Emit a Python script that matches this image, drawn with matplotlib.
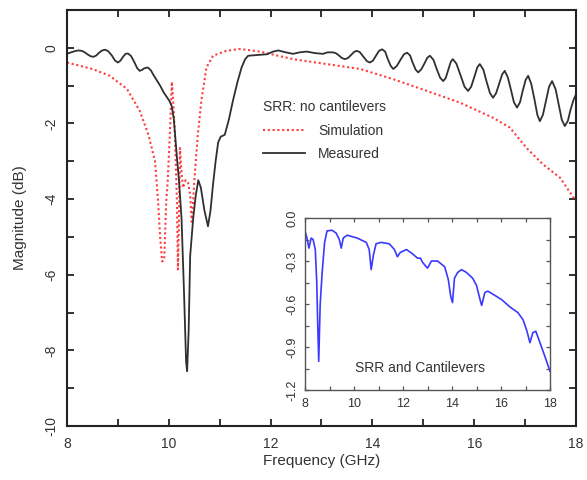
import matplotlib
matplotlib.use("Agg")
import matplotlib.pyplot as plt
from matplotlib.ticker import MultipleLocator
from matplotlib.lines import Line2D

plt.rcParams['font.family'] = ['Liberation Sans', 'DejaVu Sans']
plt.rcParams['axes.unicode_minus'] = False

# measured curve, SRR without cantilevers (black)
freq_meas = [8.0, 8.08, 8.15, 8.22, 8.29, 8.35, 8.4, 8.46, 8.52, 8.58,
             8.63, 8.69, 8.75, 8.81, 8.88, 8.94, 9.0, 9.05, 9.1, 9.15,
             9.2, 9.26, 9.32, 9.38, 9.43, 9.48, 9.52, 9.59, 9.65, 9.7,
             9.76, 9.83, 9.9, 9.96, 10.01, 10.06, 10.1, 10.13, 10.16, 10.2,
             10.25, 10.3, 10.34, 10.36, 10.39, 10.42, 10.48, 10.53, 10.58, 10.63,
             10.7, 10.77, 10.82, 10.87, 10.92, 10.97, 11.02, 11.1, 11.18, 11.26,
             11.35, 11.43, 11.5, 11.56, 11.75, 11.93, 12.05, 12.15, 12.3, 12.44,
             12.57, 12.71, 12.87, 13.03, 13.12, 13.22, 13.28, 13.34, 13.4, 13.46,
             13.52, 13.58, 13.64, 13.69, 13.75, 13.82, 13.89, 13.95, 14.01, 14.07,
             14.13, 14.19, 14.25, 14.3, 14.36, 14.41, 14.48, 14.55, 14.62, 14.68,
             14.74, 14.79, 14.85, 14.9, 14.96, 15.02, 15.08, 15.13, 15.2, 15.26,
             15.33, 15.39, 15.44, 15.49, 15.54, 15.58, 15.65, 15.73, 15.81, 15.88,
             15.94, 16.0, 16.06, 16.11, 16.18, 16.24, 16.31, 16.37, 16.43, 16.49,
             16.55, 16.6, 16.66, 16.72, 16.78, 16.84, 16.9, 16.95, 17.01, 17.06,
             17.12, 17.18, 17.24, 17.29, 17.35, 17.41, 17.47, 17.53, 17.6, 17.66,
             17.72, 17.78, 17.84, 17.89, 17.95, 18.0]
mag_meas = [-0.16, -0.12, -0.09, -0.07, -0.08, -0.12, -0.17, -0.22, -0.24, -0.2,
            -0.13, -0.07, -0.05, -0.09, -0.2, -0.33, -0.39, -0.34, -0.24, -0.16,
            -0.15, -0.22, -0.37, -0.54, -0.61, -0.58, -0.54, -0.52, -0.6, -0.72,
            -0.85, -1.0, -1.18, -1.3, -1.4, -1.55, -1.9, -2.4, -2.9, -3.5,
            -4.5, -6.5, -8.3, -8.55, -7.5, -5.5, -4.5, -3.9, -3.5, -3.7,
            -4.3, -4.72, -4.3, -3.6, -3.0, -2.5, -2.35, -2.3, -1.9, -1.4,
            -0.9, -0.52, -0.3, -0.21, -0.19, -0.17, -0.1, -0.07, -0.12, -0.16,
            -0.12, -0.1, -0.14, -0.16, -0.12, -0.12, -0.14, -0.2, -0.27, -0.3,
            -0.27, -0.19, -0.11, -0.08, -0.11, -0.23, -0.35, -0.39, -0.34, -0.21,
            -0.08, -0.04, -0.1, -0.29, -0.48, -0.56, -0.48, -0.32, -0.17, -0.13,
            -0.2, -0.39, -0.58, -0.65, -0.57, -0.42, -0.26, -0.21, -0.32, -0.55,
            -0.79, -0.88, -0.8, -0.58, -0.37, -0.3, -0.42, -0.72, -1.03, -1.14,
            -1.03, -0.78, -0.52, -0.43, -0.58, -0.88, -1.2, -1.32, -1.2, -0.95,
            -0.7, -0.61, -0.78, -1.1, -1.44, -1.58, -1.44, -1.15, -0.85, -0.74,
            -0.95, -1.34, -1.77, -1.94, -1.77, -1.4, -1.03, -0.88, -1.1, -1.5,
            -1.9, -2.07, -1.93, -1.65, -1.38, -1.23]

# simulation (red dotted)
freq_sim = [8.0, 8.5, 8.84, 9.18, 9.43, 9.6, 9.73, 9.79, 9.83, 9.87,
            9.91, 9.95, 9.98, 10.02, 10.06, 10.09, 10.12, 10.16, 10.18, 10.2,
            10.22, 10.25, 10.28, 10.33, 10.38, 10.42, 10.45, 10.48, 10.51, 10.57,
            10.64, 10.74, 10.87, 11.13, 11.4, 11.79, 12.44, 13.1, 13.76, 14.41,
            15.07, 15.72, 16.37, 16.7, 17.03, 17.35, 17.69, 18.0]
mag_sim = [-0.39, -0.56, -0.74, -1.09, -1.67, -2.3, -3.0, -4.06, -5.0, -5.65,
           -5.6, -4.06, -3.5, -2.3, -0.9, -1.5, -2.3, -4.06, -5.86, -4.5,
           -2.65, -3.3, -3.7, -3.5, -3.57, -3.9, -4.6, -4.0, -3.35, -2.3,
           -1.4, -0.52, -0.21, -0.08, -0.03, -0.1, -0.3, -0.43, -0.56, -0.83,
           -1.14, -1.45, -1.85, -2.11, -2.65, -3.08, -3.44, -4.06]

# inset: SRR and cantilevers (blue)
freq_cant = [8.0, 8.08, 8.16, 8.25, 8.33, 8.42, 8.48, 8.52, 8.56, 8.62,
             8.7, 8.8, 8.9, 9.1, 9.27, 9.4, 9.48, 9.56, 9.72, 10.13,
             10.5, 10.62, 10.7, 10.79, 10.9, 11.1, 11.44, 11.65, 11.77, 11.89,
             12.14, 12.39, 12.59, 12.71, 12.8, 13.0, 13.16, 13.41, 13.7, 13.85,
             13.95, 14.02, 14.1, 14.23, 14.39, 14.59, 14.84, 15.0, 15.13, 15.21,
             15.34, 15.46, 15.75, 16.03, 16.36, 16.69, 16.9, 17.06, 17.18, 17.3,
             17.42, 17.59, 17.8, 18.0]
mag_cant = [-0.09, -0.14, -0.21, -0.14, -0.15, -0.22, -0.45, -0.75, -1.0, -0.6,
            -0.38, -0.17, -0.09, -0.085, -0.105, -0.15, -0.21, -0.14, -0.12, -0.14,
            -0.17, -0.22, -0.36, -0.26, -0.18, -0.17, -0.18, -0.22, -0.27, -0.24,
            -0.22, -0.25, -0.28, -0.28, -0.31, -0.35, -0.3, -0.3, -0.34, -0.43,
            -0.55, -0.59, -0.42, -0.38, -0.36, -0.38, -0.42, -0.47, -0.56, -0.61,
            -0.52, -0.51, -0.54, -0.57, -0.62, -0.66, -0.71, -0.79, -0.87, -0.8,
            -0.79, -0.87, -0.97, -1.07]

main_xticks = [8, 10, 12, 14, 16, 18]
main_yticks = [0, -2, -4, -6, -8, -10]
inset_xticks = [8, 10, 12, 14, 16, 18]
inset_yticks = [0.0, -0.3, -0.6, -0.9, -1.2]

txt = '#333333'

fig = plt.figure(figsize=(5.87, 4.8), dpi=100)
ax = fig.add_axes([0.1141, 0.1125, 0.8672, 0.8667])

ax.plot(freq_sim, mag_sim, color='#ff3b3b', ls=(0, (1, 1.3)), lw=1.5)
ax.plot(freq_meas, mag_meas, color='#303030', lw=1.3)

ax.set_xlim(8, 18)
ax.set_ylim(-10, 1)
ax.set_xticks(main_xticks)
ax.set_yticks(main_yticks)
ax.xaxis.set_minor_locator(MultipleLocator(1))
ax.yaxis.set_minor_locator(MultipleLocator(1))
ax.tick_params(which='both', direction='in', top=True, right=True, width=1.3,
               length=5, colors='#222222', labelcolor=txt, labelsize=10)
ax.tick_params(axis='x', pad=8)
ax.tick_params(axis='y', pad=6)
for lab in ax.get_yticklabels():
    lab.set_rotation(90)
    lab.set_va('center')
for s in ax.spines.values():
    s.set_linewidth(1.5)
    s.set_color('#222222')
ax.set_xlabel('Frequency (GHz)', fontsize=11, color=txt, labelpad=2)
ax.set_ylabel('Magnitude (dB)', fontsize=11, color=txt, labelpad=13)

handles = [Line2D([], [], color='#ff3b3b', ls=(0, (1, 1.3)), lw=1.5),
           Line2D([], [], color='#303030', lw=1.3)]
ax.legend(handles, ['Simulation', 'Measured'], title='SRR: no cantilevers',
          loc='upper left', bbox_to_anchor=(0.448, 0.792), bbox_transform=fig.transFigure,
          frameon=False, fontsize=10, title_fontsize=10, alignment='left',
          handlelength=3.0, handletextpad=0.95, labelspacing=0.7, borderpad=0,
          borderaxespad=0, labelcolor=txt)
ax.get_legend().get_title().set_color(txt)

# inset
ins = fig.add_axes([0.5196, 0.1875, 0.4174, 0.3583])
ins.plot(freq_cant, mag_cant, color='#3a3aff', lw=1.2)
ins.set_xlim(8, 18)
ins.set_ylim(-1.2, 0.0)
ins.set_xticks(inset_xticks)
ins.set_yticks(inset_yticks)
ins.set_yticklabels(['%.1f' % v for v in inset_yticks])
ins.xaxis.set_minor_locator(MultipleLocator(1))
ins.yaxis.set_minor_locator(MultipleLocator(0.15))
ins.tick_params(which='both', direction='in', top=True, right=True, width=0.9,
                length=3, colors='#555555', labelcolor=txt, labelsize=9)
ins.tick_params(axis='x', pad=6)
ins.tick_params(axis='y', pad=5)
for lab in ins.get_yticklabels():
    lab.set_rotation(90)
    lab.set_va('center')
for s in ins.spines.values():
    s.set_linewidth(1.0)
    s.set_color('#555555')
ins.text(0.47, 0.128, 'SRR and Cantilevers', transform=ins.transAxes,
         ha='center', va='center', fontsize=10, color=txt)

fig.savefig('out.png', dpi=100)
